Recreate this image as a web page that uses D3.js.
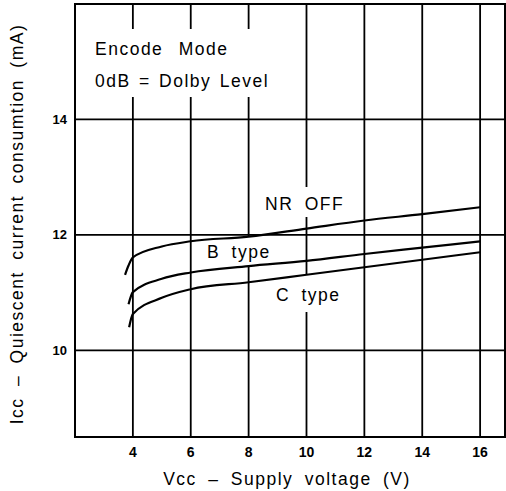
<!DOCTYPE html>
<html>
<head>
<meta charset="utf-8">
<script src="https://cdn.jsdelivr.net/npm/d3@7"></script>
<style>
  html, body { margin: 0; padding: 0; background: #fff; }
  svg { display: block; font-family: "Liberation Sans", Arial, sans-serif; }
</style>
</head>
<body>
<div id="icc_chart"></div>
<script>
// Vcc (V) / Icc (mA)
const vccNrOff = [3.73, 3.85, 4, 5, 6, 8, 10, 12, 14, 16];
const iccNrOff = [11.31, 11.47, 11.61, 11.80, 11.89, 11.97, 12.11, 12.25, 12.36, 12.48];
const vccB = [3.85, 4, 5, 6, 8, 10, 12, 14, 16];
const iccB = [10.80, 11.01, 11.24, 11.35, 11.46, 11.55, 11.67, 11.78, 11.89];
const vccC = [3.87, 4, 5, 6, 8, 10, 12, 14, 16];
const iccC = [10.40, 10.63, 10.91, 11.06, 11.18, 11.31, 11.44, 11.57, 11.70];

const xTicks = [4, 6, 8, 10, 12, 14, 16];
const yTicks = [10, 12, 14];
const xTitle = 'Vcc – Supply voltage (V)';
const yTitle = 'Icc – Quiescent current consumtion (mA)';
const noteLines = ['Encode Mode', '0dB = Dolby Level'];

const width = 506, height = 491;
const margin = { top: 4, right: 1, bottom: 54, left: 75 };

const xScale = d3.scaleLinear()
  .domain([2, 16.86])
  .range([margin.left, width - margin.right]);

const yScale = d3.scaleLinear()
  .domain([8.5, 16])
  .range([height - margin.bottom, margin.top]);

const svg = d3.select('#icc_chart')
  .append('svg')
  .attr('width', width)
  .attr('height', height);

// grid lines first, labels knock gaps out of them later
const grid = svg.append('g').attr('stroke', '#000').attr('stroke-width', 1.8);

grid.selectAll('.vgrid')
  .data(xTicks)
  .join('line')
  .attr('x1', d => xScale(d)).attr('x2', d => xScale(d))
  .attr('y1', yScale.range()[1]).attr('y2', yScale.range()[0]);

grid.selectAll('.hgrid')
  .data(yTicks)
  .join('line')
  .attr('x1', xScale.range()[0]).attr('x2', xScale.range()[1])
  .attr('y1', d => yScale(d)).attr('y2', d => yScale(d));

// labels with a white backing
const labelLayer = svg.append('g');

function addLabel(lines, x, y, lineGap, pad, ws) {
  const g = labelLayer.append('g');
  const bg = g.append('rect').attr('fill', '#fff');
  const t = g.append('text')
    .attr('font-size', 17.5)
    .attr('letter-spacing', 1.5)
    .attr('fill', '#000');
  lines.forEach((s, i) => {
    t.append('tspan')
      .attr('x', x).attr('y', y + i * lineGap)
      .attr('word-spacing', ws[i])
      .text(s);
  });
  const b = t.node().getBBox();
  bg.attr('x', b.x - pad[0]).attr('y', b.y - pad[1])
    .attr('width', b.width + 2 * pad[0]).attr('height', b.height + pad[1] + pad[2]);
}

addLabel(noteLines, 95, 55, 32, [6, 10, 6], [9, 2]);
addLabel(['NR OFF'], 265, 210, 0, [6, 7, 3], [5]);
addLabel(['B type'], 207, 258, 0, [6, 6, 5], [5]);
addLabel(['C type'], 276, 301, 0, [6, 10, 7], [5]);

// curves
const line = d3.line()
  .x(d => xScale(d[0]))
  .y(d => yScale(d[1]))
  .curve(d3.curveMonotoneX);

const series = [
  d3.zip(vccNrOff, iccNrOff),
  d3.zip(vccB, iccB),
  d3.zip(vccC, iccC),
];

svg.append('g')
  .selectAll('path')
  .data(series)
  .join('path')
  .attr('d', line)
  .attr('fill', 'none')
  .attr('stroke', '#000')
  .attr('stroke-width', 2.2);

// frame
svg.append('rect')
  .attr('x', xScale.range()[0])
  .attr('y', yScale.range()[1])
  .attr('width', xScale.range()[1] - xScale.range()[0])
  .attr('height', yScale.range()[0] - yScale.range()[1])
  .attr('fill', 'none')
  .attr('stroke', '#000')
  .attr('stroke-width', 2);

// tick labels
svg.append('g')
  .selectAll('text')
  .data(xTicks)
  .join('text')
  .attr('x', d => xScale(d))
  .attr('y', yScale.range()[0] + 20)
  .attr('text-anchor', 'middle')
  .attr('font-size', 14)
  .attr('font-weight', 'bold')
  .text(d => d);

svg.append('g')
  .selectAll('text')
  .data(yTicks)
  .join('text')
  .attr('x', xScale.range()[0] - 8)
  .attr('y', d => yScale(d))
  .attr('dy', '0.35em')
  .attr('text-anchor', 'end')
  .attr('font-size', 13)
  .attr('font-weight', 'bold')
  .text(d => d);

// axis titles
svg.append('text')
  .attr('x', 287)
  .attr('y', 485)
  .attr('text-anchor', 'middle')
  .attr('font-size', 17.5)
  .attr('letter-spacing', 1.5)
  .attr('word-spacing', 5)
  .text(xTitle);

svg.append('text')
  .attr('transform', 'translate(23,224) rotate(-90)')
  .attr('text-anchor', 'middle')
  .attr('font-size', 17.5)
  .attr('letter-spacing', 1.5)
  .attr('word-spacing', 5)
  .text(yTitle);
</script>
</body>
</html>
